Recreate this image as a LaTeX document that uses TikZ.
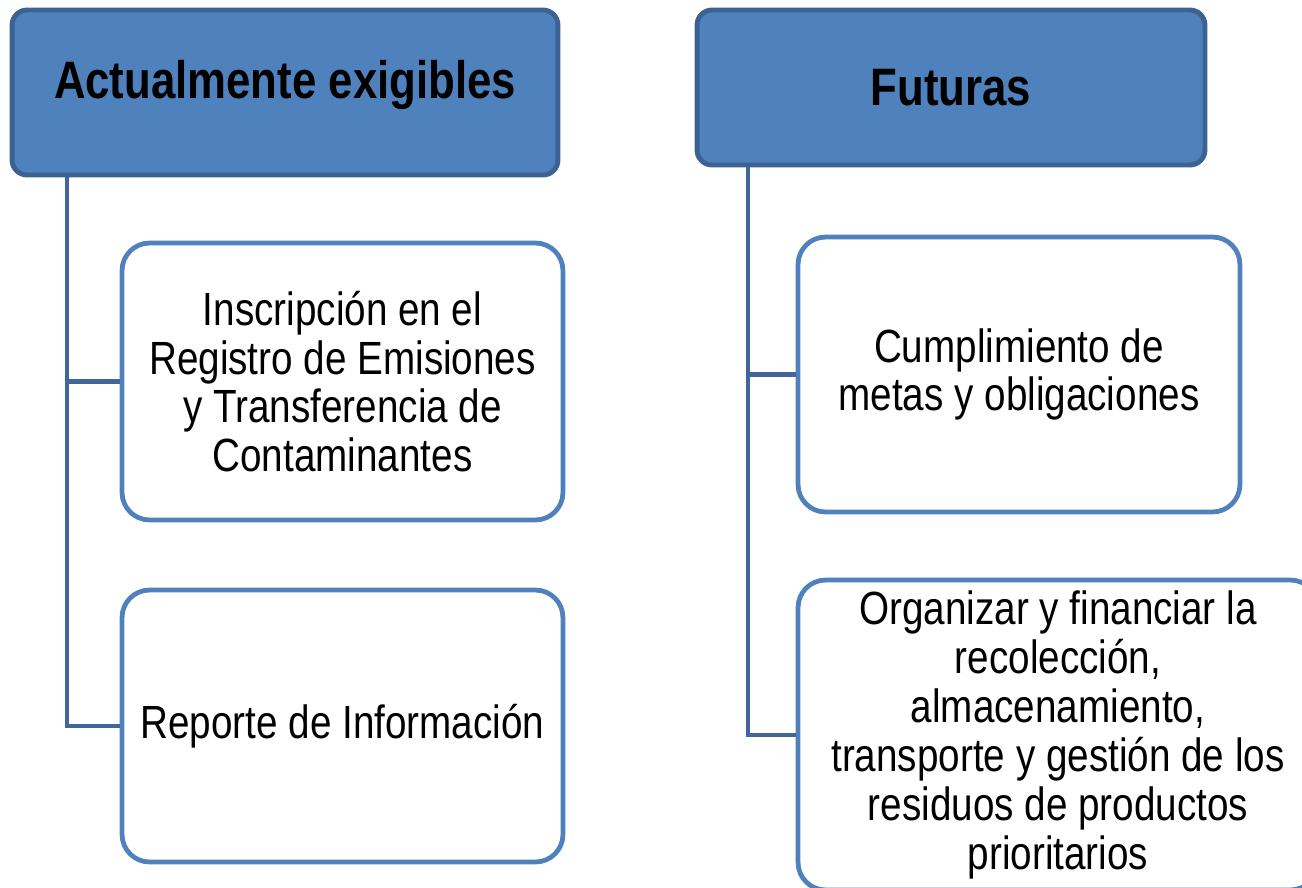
\documentclass[tikz,border=0pt]{standalone}
\usepackage{fontspec}
\setmainfont{Liberation Sans}[FakeStretch=0.83]
\usetikzlibrary{positioning}

\definecolor{boxblue}{HTML}{4F81BD}
\definecolor{edgeblue}{HTML}{3C6291}
\definecolor{linkblue}{HTML}{41679A}

\tikzset{
    header/.style = {rectangle, draw = edgeblue, fill = boxblue,
                     line width = 2.8pt, rounded corners = 0.3cm},
    item/.style   = {rectangle, draw = boxblue, fill = white,
                     line width = 2.7pt, rounded corners = 0.55cm},
    hdrtext/.style = {font = \bfseries\fontsize{30}{34}\selectfont},
    itemtext/.style = {align = center, font = \fontsize{26.5}{27.8}\selectfont},
    link/.style = {draw = linkblue, line width = 2.7pt}
}

\begin{document}
\begin{tikzpicture}[x=0.02cm, y=-0.02cm]

    \useasboundingbox (0,0) rectangle (1302,887);
    \clip (0,0) rectangle (1302,887);

    \node[header,
          minimum width = 10.92cm,
          minimum height = 3.3cm
          ] (act) at (285,92.5) {};
    \node[hdrtext] at ([yshift=0.16cm]act.center) {Actualmente exigibles};

    \node[header,
          minimum width = 10.16cm,
          minimum height = 3.1cm
          ] (fut) at (951,87.5) {};
    \node[hdrtext] at (fut.center) {Futuras};

    \node[item,
          minimum width = 8.82cm,
          minimum height = 5.54cm
          ] (ins) at (342.5,381.5) {};
    \node[itemtext] at (ins.center) {Inscripción en el\\Registro de Emisiones\\y Transferencia de\\Contaminantes};

    \node[item,
          minimum width = 8.82cm,
          minimum height = 5.44cm
          ] (rep) at (342.5,726) {};
    \node[itemtext] at (rep.center) {Reporte de Información};

    \node[item,
          minimum width = 8.84cm,
          minimum height = 5.5cm
          ] (cum) at (1019,374.5) {};
    \node[itemtext] at (cum.center) {Cumplimiento de\\metas y obligaciones};

    \node[item,
          minimum width = 10.4cm,
          minimum height = 6.2cm
          ] (org) at (1058,735) {};
    \node[itemtext] at (org.center) {Organizar y financiar la\\recolección,\\almacenamiento,\\transporte y gestión de los\\residuos de productos\\prioritarios};

    \coordinate (trunkL) at (act.south -| 67,0);
    \coordinate (trunkR) at (fut.south -| 748,0);

    %left branch
    \path[link] (trunkL) |- (ins.west);
    \path[link] (trunkL) |- (rep.west);
    %right branch
    \path[link] (trunkR) |- (cum.west);
    \path[link] (trunkR) |- (org.west);

\end{tikzpicture}
\end{document}
